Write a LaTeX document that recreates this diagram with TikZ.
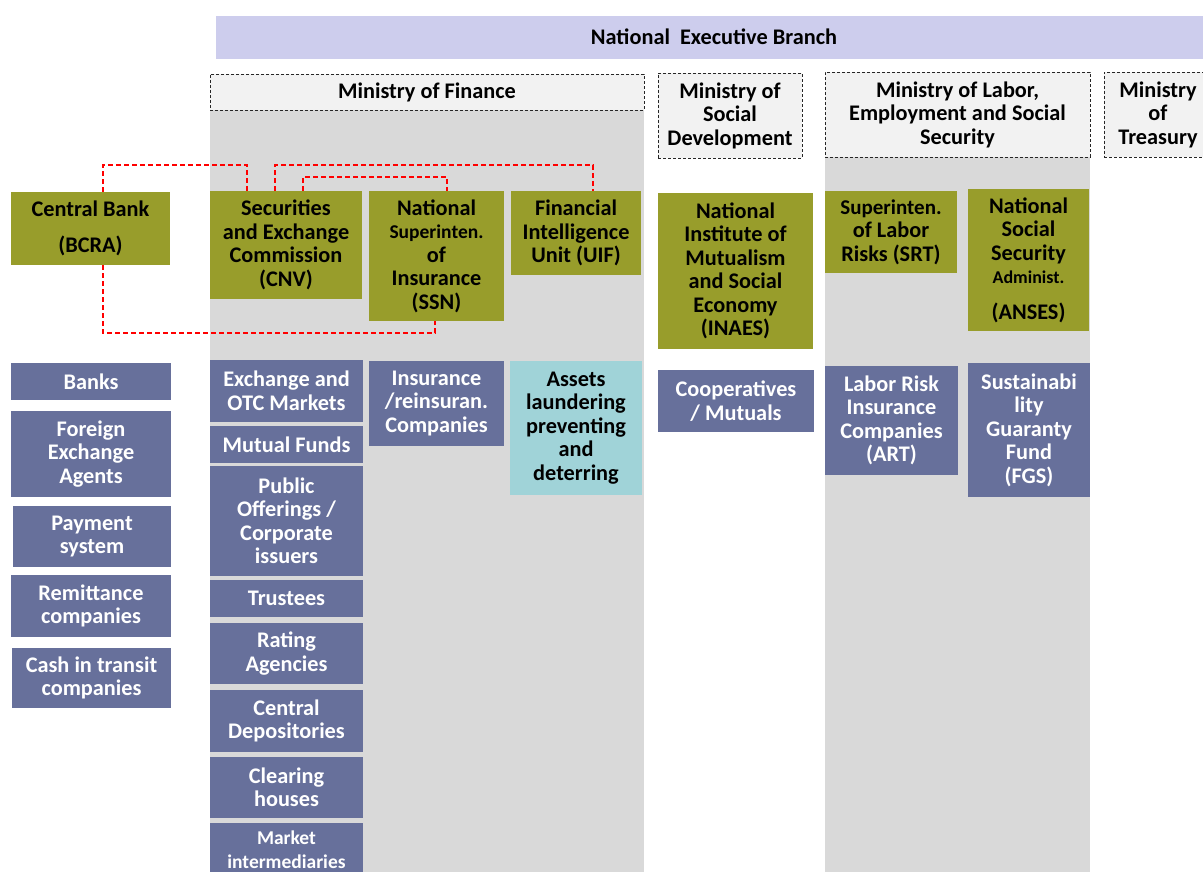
\documentclass[tikz,border=0pt]{standalone}
\usepackage{fontspec}
\setmainfont{Carlito}
\definecolor{ogreen}{RGB}{152,157,43}
\definecolor{slateb}{RGB}{103,112,155}
\definecolor{aquab}{RGB}{160,211,216}
\definecolor{lavb}{RGB}{205,205,237}
\definecolor{colgrey}{RGB}{217,217,217}
\definecolor{hdrfill}{RGB}{242,242,242}
\tikzset{
  bxbase/.style={inner sep=0pt, outer sep=0pt, align=center, font=\bfseries\fontsize{22.3}{23.5}\selectfont},
  ol/.style={bxbase, fill=ogreen, text=black},
  bl/.style={bxbase, fill=slateb, text=white},
  aq/.style={bxbase, fill=aquab, text=black},
  hbar/.style={bxbase, fill=lavb, text=black},
  hdr/.style={bxbase, fill=hdrfill, draw=black!85, dash pattern=on 3pt off 2pt, line width=0.7pt},
  rl/.style={draw=red, line width=1.4pt, dash pattern=on 5pt off 3pt},
}
\newcommand\bx[7]{\node[#6, minimum width={#4-#2}, minimum height={#5-#3}] (#1) at ({(#2+#4)/2},{(#3+#5)/2}) {#7};}
\begin{document}
\begin{tikzpicture}[x=1pt,y=-1pt]
\useasboundingbox (0,0) rectangle (1203,872);
% grey columns
\fill[colgrey] (210,110) rectangle (644,880);
\fill[colgrey] (825,157) rectangle (1090,880);
% top bar and ministries
\bx{neb}{216}{16}{1212}{59}{hbar}{\raisebox{2.5pt}{National\ \ Executive Branch}}
\bx{mof}{210}{74}{644}{110}{hdr}{Ministry of Finance}
\bx{mosd}{658}{73}{802}{158}{hdr}{Ministry of\\Social\\Development}
\bx{mol}{825}{72}{1090}{157}{hdr}{Ministry of Labor,\\Employment and Social\\Security}
\bx{mot}{1104}{72}{1212}{157}{hdr}{Ministry\\of\\Treasury}
% regulators
\bx{cb}{11}{192}{170}{265}{ol}{Central Bank\\[12pt](BCRA)}
\bx{cnv}{210}{191}{362}{299}{ol}{Securities\\and Exchange\\Commission\\(CNV)}
\bx{ssn}{369}{191}{504}{321}{ol}{National\\{\fontsize{19.5}{23.5}\selectfont Superinten.}\\of\\Insurance\\(SSN)}
\bx{uif}{511}{191}{641}{275}{ol}{Financial\\Intelligence\\Unit (UIF)}
\bx{inaes}{658}{193}{813}{349}{ol}{National\\Institute of\\Mutualism\\and Social\\Economy\\(INAES)}
\bx{srt}{825}{191}{957}{273}{ol}{{\fontsize{21}{23.5}\selectfont Superinten.}\\of Labor\\Risks (SRT)}
\bx{anses}{968}{189}{1089}{331}{ol}{National\\Social\\Security\\{\fontsize{18}{22}\selectfont Administ.}\\[12pt](ANSES)}
% regulated, left
\bx{banks}{11}{363}{171}{400}{bl}{Banks}
\bx{fea}{11}{411}{171}{497}{bl}{Foreign\\Exchange\\Agents}
\bx{pay}{13}{506}{171}{567}{bl}{Payment\\system}
\bx{rem}{11}{575}{171}{637}{bl}{Remittance\\companies}
\bx{cash}{12}{648}{171}{708}{bl}{Cash in transit\\companies}
% regulated, CNV
\bx{exch}{210}{360}{363}{422}{bl}{Exchange and\\OTC Markets}
\bx{mf}{210}{426}{363}{463}{bl}{Mutual Funds}
\bx{po}{210}{466}{363}{576}{bl}{Public\\Offerings /\\Corporate\\issuers}
\bx{tru}{210}{580}{363}{617}{bl}{Trustees}
\bx{rat}{210}{623}{363}{684}{bl}{Rating\\Agencies}
\bx{cd}{210}{690}{363}{752}{bl}{Central\\Depositories}
\bx{ch}{210}{757}{363}{818}{bl}{Clearing\\houses}
\bx{mi}{210}{823}{363}{876}{bl}{{\fontsize{19.5}{21.5}\selectfont Market}\\{\fontsize{19.5}{21.5}\selectfont intermediaries}}
% others
\bx{ins}{369}{361}{504}{446}{bl}{Insurance\\/reinsuran.\\Companies}
\bx{aml}{510}{361}{642}{495}{aq}{Assets\\laundering\\preventing\\and\\deterring}
\bx{coop}{658}{370}{814}{432}{bl}{Cooperatives\\/ Mutuals}
\bx{art}{825}{366}{958}{475}{bl}{Labor Risk\\Insurance\\Companies\\(ART)}
\bx{fgs}{968}{363}{1090}{497}{bl}{Sustainabi\\lity\\Guaranty\\Fund\\(FGS)}
% red dashed links
\draw[rl] ([xshift=92pt]cb.north west) -- ++(0,-27) -| ([xshift=37pt]cnv.north west);
\draw[rl] ([xshift=65pt]cnv.north west) -- ++(0,-26) -| ([xshift=82pt]uif.north west);
\draw[rl] ([xshift=93pt]cnv.north west) -- ++(0,-14) -| ([xshift=78pt]ssn.north west);
\draw[rl] ([xshift=92pt]cb.south west) -- ++(0,68) -| ([xshift=66pt]ssn.south west);
\end{tikzpicture}
\end{document}
